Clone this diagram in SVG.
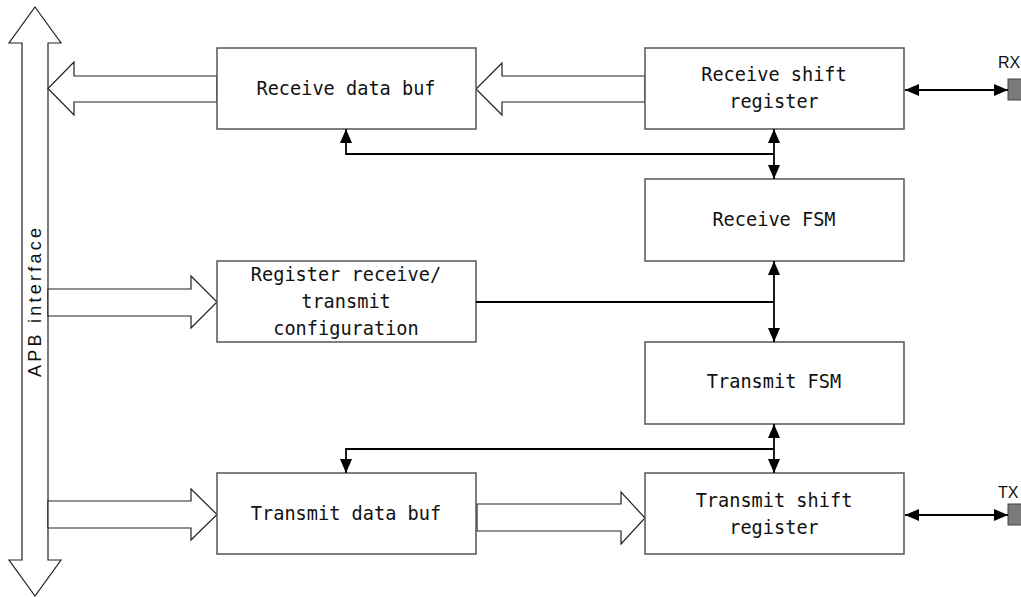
<svg xmlns="http://www.w3.org/2000/svg" width="1021" height="597" viewBox="0 0 1021 597">
<defs>
<marker id="ah" viewBox="0 0 14 12" refX="14" refY="6" markerWidth="14" markerHeight="12" markerUnits="userSpaceOnUse" orient="auto-start-reverse">
<path d="M0,0 L14,6 L0,12 z" fill="#000"/>
</marker>
<style>
.box{fill:#fff;stroke:#555;stroke-width:1.5}
.fat{fill:#fff;stroke:#222;stroke-width:1.2}
.lbl{font-family:"DejaVu Sans Mono","Liberation Mono",monospace;font-size:18.6px;fill:#111;text-anchor:middle}
.con{fill:none;stroke:#000;stroke-width:1.8}
.pin{fill:#7a7a7a;stroke:#444;stroke-width:1}
.pl{font-family:"Liberation Sans",Arial,sans-serif;font-size:16px;fill:#111}
</style>
</defs>
<rect width="1021" height="597" fill="#fff"/>

<g id="apb">
<polygon class="fat" points="35,7 61,43 48,43 48,560 61,560 35,596 9,560 22,560 22,43 9,43"/>
<text transform="translate(41,377) rotate(-90)" font-family="'Liberation Sans',Arial,sans-serif" font-size="18" fill="#111" textLength="149" lengthAdjust="spacing">APB interface</text>
</g>

<g id="fat-arrows">
<polygon class="fat" points="217,76 74,76 74,62 48,88.5 74,115 74,102 217,102"/>
<polygon class="fat" points="645,76 502,76 502,63 476,89 502,115 502,102 645,102"/>
<polygon class="fat" points="48,289 191,289 191,276 217,302 191,328 191,316 48,316"/>
<polygon class="fat" points="48,501 191,501 191,489 217,514.5 191,540 191,528 48,528"/>
<polygon class="fat" points="477,504 621,504 621,492 645,518 621,544 621,531 477,531"/>
</g>

<g id="rx-buf">
<rect class="box" x="217" y="48" width="259" height="81"/>
<text class="lbl" x="346" y="95">Receive data buf</text>
</g>
<g id="rx-shift">
<rect class="box" x="645" y="48" width="259" height="81"/>
<text class="lbl" x="774" y="81">Receive shift</text>
<text class="lbl" x="774" y="108">register</text>
</g>
<g id="rx-fsm">
<rect class="box" x="645" y="179" width="259" height="82"/>
<text class="lbl" x="774" y="226">Receive FSM</text>
</g>
<g id="reg-cfg">
<rect class="box" x="217" y="261" width="259" height="81"/>
<text class="lbl" x="346" y="281">Register receive/</text>
<text class="lbl" x="346" y="308">transmit</text>
<text class="lbl" x="346" y="335">configuration</text>
</g>
<g id="tx-fsm">
<rect class="box" x="645" y="342" width="259" height="82"/>
<text class="lbl" x="774" y="388">Transmit FSM</text>
</g>
<g id="tx-buf">
<rect class="box" x="217" y="473" width="259" height="81"/>
<text class="lbl" x="346" y="520">Transmit data buf</text>
</g>
<g id="tx-shift">
<rect class="box" x="645" y="473" width="259" height="81"/>
<text class="lbl" x="774" y="507">Transmit shift</text>
<text class="lbl" x="774" y="534">register</text>
</g>

<g id="rx-pin">
<rect class="pin" x="1008" y="79" width="14" height="21"/>
<text class="pl" x="998" y="68">RX</text>
</g>
<g id="tx-pin">
<rect class="pin" x="1008" y="504" width="14" height="21"/>
<text class="pl" x="998" y="498">TX</text>
</g>

<g id="connectors">
<line class="con" x1="774" y1="154" x2="774" y2="129" marker-end="url(#ah)"/>
<line class="con" x1="774" y1="154" x2="774" y2="179" marker-end="url(#ah)"/>
<polyline class="con" points="774,154 346,154 346,129" marker-end="url(#ah)"/>
<line class="con" x1="476" y1="302" x2="774" y2="302"/>
<line class="con" x1="774" y1="302" x2="774" y2="261" marker-end="url(#ah)"/>
<line class="con" x1="774" y1="302" x2="774" y2="342" marker-end="url(#ah)"/>
<line class="con" x1="774" y1="449" x2="774" y2="424" marker-end="url(#ah)"/>
<line class="con" x1="774" y1="449" x2="774" y2="473" marker-end="url(#ah)"/>
<polyline class="con" points="774,449 346,449 346,473" marker-end="url(#ah)"/>
<line class="con" x1="905" y1="90" x2="1008" y2="90" marker-start="url(#ah)" marker-end="url(#ah)"/>
<line class="con" x1="905" y1="515" x2="1008" y2="515" marker-start="url(#ah)" marker-end="url(#ah)"/>
</g>
</svg>
